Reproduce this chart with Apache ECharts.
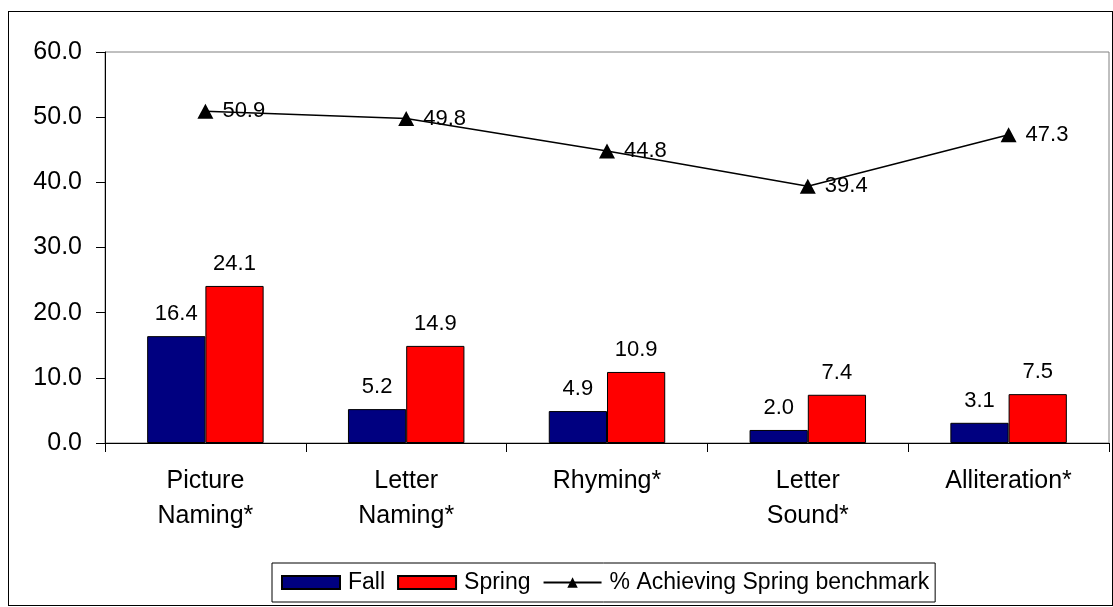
<!DOCTYPE html>
<html>
<head>
<meta charset="utf-8">
<script src="https://cdn.jsdelivr.net/npm/echarts@6/dist/echarts.min.js"></script>
<style>
  html, body { margin: 0; padding: 0; background: #fff; }
  #frame { position: absolute; left: 8px; top: 11px; width: 1105px; height: 595px; border: 1px solid #000; box-sizing: border-box; }
  #chart { width: 1113px; height: 607px; position: absolute; left: 0; top: 0; }
</style>
</head>
<body>
<div id="frame"></div>
<div id="chart"></div>
<script>
// chart data
const categories = ['Picture\nNaming*', 'Letter\nNaming*', 'Rhyming*', 'Letter\nSound*', 'Alliteration*'];
const fallValues = [16.4, 5.2, 4.9, 2.0, 3.1];
const springValues = [24.1, 14.9, 10.9, 7.4, 7.5];
const benchmarkValues = [50.9, 49.8, 44.8, 39.4, 47.3];

const font = 'Liberation Sans, Arial, sans-serif';
const fmt = p => Number(p.value).toFixed(1);

let chart = echarts.init(document.getElementById('chart'));

chart.setOption({
    animation: false,
    textStyle: { fontFamily: font },
    grid: { left: 105, top: 52, right: 4, bottom: 164, show: true, borderColor: '#808080', borderWidth: 1 },
    legend: {
        top: 563,
        left: 272,
        itemGap: 12,
        itemWidth: 58,
        itemHeight: 13,
        borderColor: '#000',
        borderWidth: 1,
        padding: [8, 6, 8, 9],
        textStyle: { fontFamily: font, fontSize: 23, color: '#000', padding: [0, 0, 0, 3] },
        data: [
            { name: 'Fall', icon: 'rect' },
            { name: 'Spring', icon: 'rect' },
            { name: '% Achieving Spring benchmark' }
        ]
    },
    xAxis: {
        type: 'category',
        data: categories,
        axisLine: { lineStyle: { color: '#000', width: 1 } },
        axisTick: { show: true, length: 9, lineStyle: { color: '#000' } },
        axisLabel: { color: '#000', fontSize: 25, lineHeight: 35, margin: 21, fontFamily: font }
    },
    yAxis: {
        type: 'value',
        min: 0,
        max: 60,
        interval: 10,
        axisLine: { show: true, lineStyle: { color: '#000', width: 1 } },
        axisTick: { show: true, length: 9, lineStyle: { color: '#000' } },
        splitLine: { show: false },
        axisLabel: { color: '#000', fontSize: 25, margin: 23, fontFamily: font, formatter: v => v.toFixed(1) }
    },
    series: [
        {
            name: 'Fall',
            type: 'bar',
            data: fallValues,
            barGap: '0%',
            barCategoryGap: '42%',
            itemStyle: { color: '#000080', borderColor: '#000', borderWidth: 1 },
            label: { show: true, position: 'top', distance: 11, color: '#000', fontSize: 22, fontFamily: font, formatter: fmt }
        },
        {
            name: 'Spring',
            type: 'bar',
            data: springValues,
            itemStyle: { color: '#ff0000', borderColor: '#000', borderWidth: 1 },
            label: { show: true, position: 'top', distance: 11, color: '#000', fontSize: 22, fontFamily: font, formatter: fmt }
        },
        {
            name: '% Achieving Spring benchmark',
            type: 'line',
            data: benchmarkValues,
            symbol: 'triangle',
            symbolSize: [16, 15],
            itemStyle: { color: '#000' },
            lineStyle: { color: '#000', width: 1.5 },
            label: { show: true, position: 'right', distance: 9, color: '#000', fontSize: 22, fontFamily: font, formatter: fmt }
        }
    ]
});
window.onresize = () => chart.resize();
</script>
</body>
</html>
